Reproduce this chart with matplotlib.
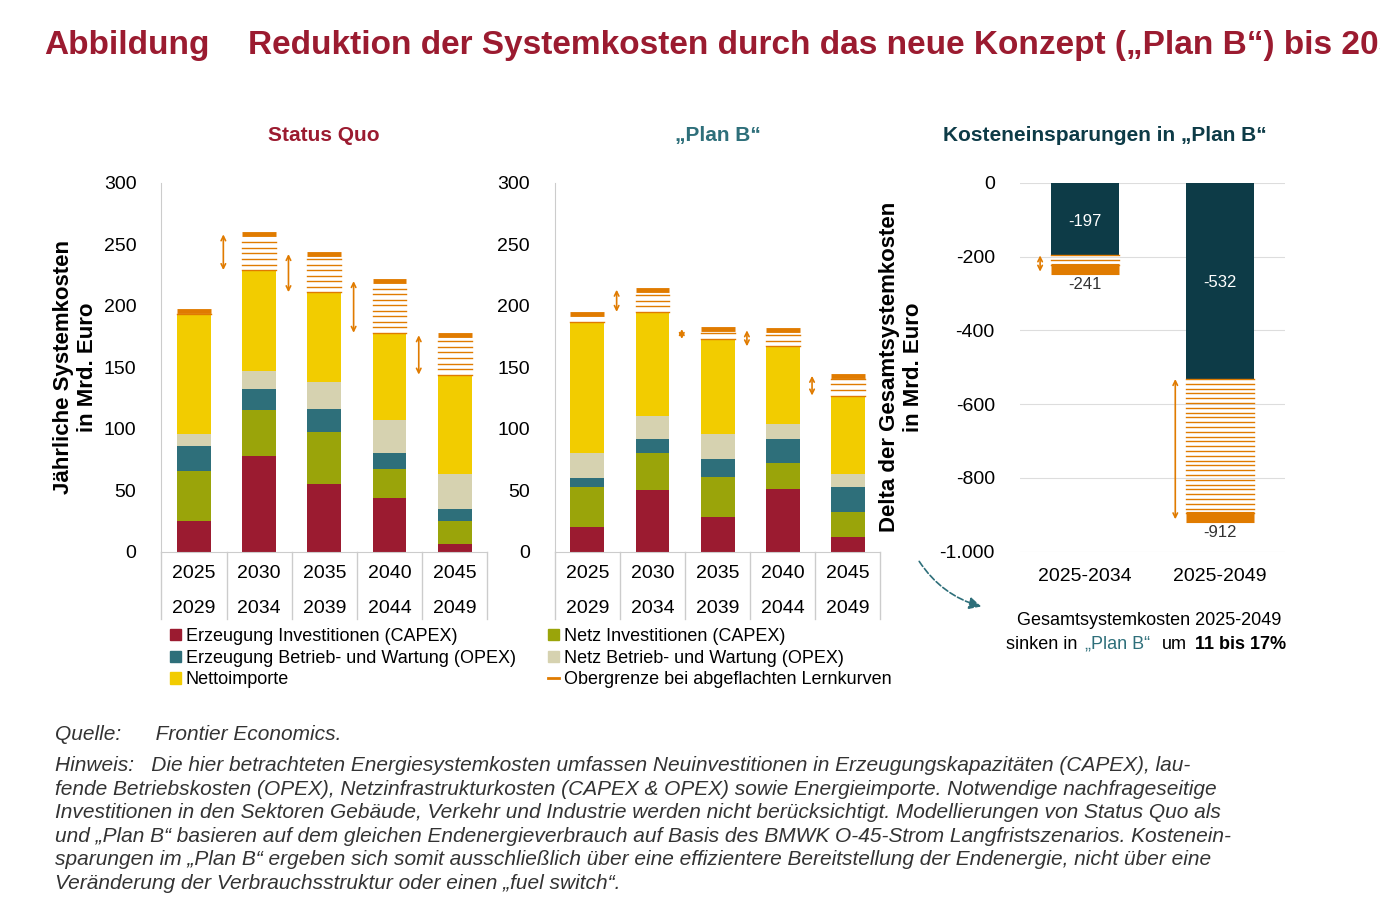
import matplotlib.pyplot as plt
from matplotlib.patches import FancyArrowPatch
from matplotlib.lines import Line2D
from matplotlib.patches import Patch

plt.rcParams['font.family'] = ['Liberation Sans', 'DejaVu Sans']

# data
start_years = ["2025", "2030", "2035", "2040", "2045"]
end_years = ["2029", "2034", "2039", "2044", "2049"]

sq_capex_gen = [25, 78, 55, 44, 6]
sq_capex_net = [41, 37, 42, 23, 19]
sq_opex_gen = [20, 17, 19, 13, 10]
sq_opex_net = [10, 15, 22, 27, 28]
sq_imports = [97, 82, 73, 71, 81]
sq_upper = [196, 258, 242, 220, 176]

pb_capex_gen = [20, 50, 28, 51, 12]
pb_capex_net = [33, 30, 33, 21, 20]
pb_opex_gen = [7, 12, 14, 20, 21]
pb_opex_net = [20, 18, 21, 12, 10]
pb_imports = [107, 85, 77, 63, 64]
pb_upper = [193, 213, 181, 180, 143]

periods = ["2025-2034", "2025-2049"]
savings = [-197, -532]
savings_upper = [-241, -912]

C_RED = "#9B1B30"
C_GREEN = "#9AA40A"
C_TEAL = "#2E6F7A"
C_BEIGE = "#D6D2B0"
C_YELLOW = "#F2CC00"
C_ORANGE = "#E07B00"
C_DARK = "#0D3B47"
C_TITLE = "#9B1B30"

fig = plt.figure(figsize=(13.8, 9.09), dpi=100)


def stacked_panel(ax, layers, upper, title, title_color):
    x = range(len(start_years))
    w = 0.52
    bottom = [0] * len(start_years)
    for vals, col in zip(layers, [C_RED, C_GREEN, C_TEAL, C_BEIGE, C_YELLOW]):
        ax.bar(x, vals, w, bottom=bottom, color=col)
        bottom = [b + v for b, v in zip(bottom, vals)]
    for i, (top, up) in enumerate(zip(bottom, upper)):
        y = top
        while y < up - 2:
            ax.plot([i - w / 2, i + w / 2], [y, y], color=C_ORANGE, lw=1)
            y += 4.5
        ax.plot([i - w / 2, i + w / 2], [up, up], color=C_ORANGE, lw=3.5, solid_capstyle='butt')
        ax.annotate("", xy=(i - 0.55, up), xytext=(i - 0.55, top),
                    arrowprops=dict(arrowstyle="<->", color=C_ORANGE, lw=1.2, mutation_scale=8,
                                    shrinkA=0, shrinkB=0))
    ax.set_xlim(-0.5, 4.5)
    ax.set_ylim(0, 300)
    ax.set_yticks(range(0, 301, 50))
    ax.tick_params(axis='y', length=0, labelsize=14, pad=18)
    ax.set_xticks([])
    for s in ['top', 'right']:
        ax.spines[s].set_visible(False)
    ax.spines['left'].set_color('#cccccc')
    ax.spines['bottom'].set_color('#cccccc')
    for i in range(5):
        ax.text(i, -18, start_years[i], ha='center', va='center', fontsize=14)
        ax.text(i, -46, end_years[i], ha='center', va='center', fontsize=14)
    for i in range(6):
        ax.plot([i - 0.5, i - 0.5], [0, -55], color='#cccccc', lw=1, clip_on=False)
    ax.set_title(title, color=title_color, fontsize=15, fontweight='bold', pad=30)


ax1 = fig.add_axes([0.117, 0.393, 0.236, 0.406])
stacked_panel(ax1, [sq_capex_gen, sq_capex_net, sq_opex_gen, sq_opex_net, sq_imports],
              sq_upper, "Status Quo", C_TITLE)
ax1.set_ylabel("Jährliche Systemkosten\nin Mrd. Euro", fontsize=16, fontweight='bold', labelpad=4)

ax2 = fig.add_axes([0.402, 0.393, 0.236, 0.406])
stacked_panel(ax2, [pb_capex_gen, pb_capex_net, pb_opex_gen, pb_opex_net, pb_imports],
              pb_upper, "„Plan B“", "#2E6F7A")

ax3 = fig.add_axes([0.739, 0.393, 0.192, 0.406])
w = 0.5
ax3.bar(range(2), savings, w, color=C_DARK)
label_y = [-105, -270]
for i, (s, up) in enumerate(zip(savings, savings_upper)):
    y = s
    while y > up + 6:
        ax3.plot([i - w / 2, i + w / 2], [y, y], color=C_ORANGE, lw=1)
        y -= 13
    ax3.plot([i - w / 2, i + w / 2], [up + 6, up + 6], color=C_ORANGE, lw=8, solid_capstyle='butt')
    ax3.annotate("", xy=(i - 0.33, up), xytext=(i - 0.33, s),
                 arrowprops=dict(arrowstyle="<->", color=C_ORANGE, lw=1.2, mutation_scale=8,
                                 shrinkA=0, shrinkB=0))
    ax3.text(i, label_y[i], str(s), color='white', ha='center', va='center', fontsize=12)
    ax3.text(i, up - 35, str(up), ha='center', va='center', fontsize=12, color='#333333')
ax3.set_xlim(-0.48, 1.48)
ax3.set_ylim(-1000, 0)
ax3.set_yticks(range(-1000, 1, 200))
ax3.set_yticklabels(["-1.000", "-800", "-600", "-400", "-200", "0"])
ax3.grid(axis='y', color='#dddddd')
ax3.set_axisbelow(True)
ax3.tick_params(axis='y', length=0, labelsize=14, pad=18)
ax3.set_xticks(range(2))
ax3.set_xticklabels(periods, fontsize=14)
ax3.tick_params(axis='x', length=0, pad=12)
for s in ['top', 'right', 'left', 'bottom']:
    ax3.spines[s].set_visible(False)
ax3.set_ylabel("Delta der Gesamtsystemkosten\nin Mrd. Euro", fontsize=16, fontweight='bold')
ax3.yaxis.set_label_coords(-0.36, 0.5)
ax3.set_title("Kosteneinsparungen in „Plan B“", color=C_DARK, fontsize=15, fontweight='bold',
              pad=30, x=0.32)

# titles
fig.text(0.032, 0.95, "Abbildung", color=C_TITLE, fontsize=24, fontweight='bold', va='center')
fig.text(0.18, 0.95, "Reduktion der Systemkosten durch das neue Konzept („Plan B“) bis 2050",
         color=C_TITLE, fontsize=24, fontweight='bold', va='center')

# legend
handles1 = [Patch(color=C_RED), Patch(color=C_TEAL), Patch(color=C_YELLOW)]
labels1 = ["Erzeugung Investitionen (CAPEX)", "Erzeugung Betrieb- und Wartung (OPEX)", "Nettoimporte"]
fig.legend(handles1, labels1, loc='upper left', bbox_to_anchor=(0.123, 0.309), frameon=False,
           fontsize=13, handlelength=0.6, handleheight=0.6, handletextpad=0.3, labelspacing=0.25,
           borderaxespad=0, borderpad=0)
handles2 = [Patch(color=C_GREEN), Patch(color=C_BEIGE), Line2D([], [], color=C_ORANGE, lw=2)]
labels2 = ["Netz Investitionen (CAPEX)", "Netz Betrieb- und Wartung (OPEX)",
           "Obergrenze bei abgeflachten Lernkurven"]
fig.legend(handles2, labels2, loc='upper left', bbox_to_anchor=(0.397, 0.309), frameon=False,
           fontsize=13, handlelength=0.6, handleheight=0.6, handletextpad=0.3, labelspacing=0.25,
           borderaxespad=0, borderpad=0)

# savings note
arr = FancyArrowPatch((0.665, 0.385), (0.713, 0.332), transform=fig.transFigure,
                      connectionstyle="arc3,rad=0.2", arrowstyle="-|>", mutation_scale=18,
                      color=C_TEAL, ls='--', lw=1.2)
fig.patches.append(arr)
fig.text(0.833, 0.317, "Gesamtsystemkosten 2025-2049", ha='center', va='center', fontsize=13)
fig.text(0.729, 0.291, "sinken in", ha='left', va='center', fontsize=13)
fig.text(0.786, 0.291, "„Plan B“", ha='left', va='center', fontsize=13, color=C_TEAL)
fig.text(0.842, 0.291, "um", ha='left', va='center', fontsize=13)
fig.text(0.866, 0.291, "11 bis 17%", ha='left', va='center', fontsize=13, fontweight='bold')

# source and note
fig.text(0.04, 0.192, "Quelle:      Frontier Economics.", fontsize=15, style='italic', color='#333333', va='center')
note = ("Hinweis:   Die hier betrachteten Energiesystemkosten umfassen Neuinvestitionen in Erzeugungskapazitäten (CAPEX), lau-\n"
        "fende Betriebskosten (OPEX), Netzinfrastrukturkosten (CAPEX & OPEX) sowie Energieimporte. Notwendige nachfrageseitige\n"
        "Investitionen in den Sektoren Gebäude, Verkehr und Industrie werden nicht berücksichtigt. Modellierungen von Status Quo als\n"
        "und „Plan B“ basieren auf dem gleichen Endenergieverbrauch auf Basis des BMWK O-45-Strom Langfristszenarios. Kostenein-\n"
        "sparungen im „Plan B“ ergeben sich somit ausschließlich über eine effizientere Bereitstellung der Endenergie, nicht über eine\n"
        "Veränderung der Verbrauchsstruktur oder einen „fuel switch“.")
fig.text(0.04, 0.168, note, fontsize=15, style='italic', color='#333333', va='top', linespacing=1.3)

fig.savefig("out.png", dpi=100)
